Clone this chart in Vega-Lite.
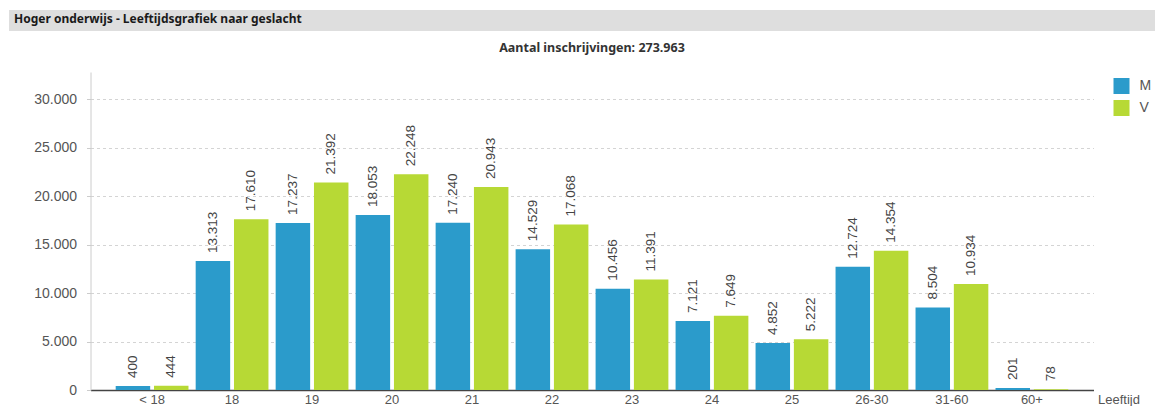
{
  "$schema": "https://vega.github.io/schema/vega-lite/v6.json",
  "padding": {"left": 7, "top": 10, "right": 0, "bottom": 0},
  "spacing": 10,
  "center": true,
  "resolve": {"scale": {"color": "independent"}, "legend": {"color": "independent"}},
  "background": "white",
  "config": {
    "locale": {"number": {"decimal": ",", "thousands": ".", "grouping": [3], "currency": ["€ ", ""]}},
    "font": "Liberation Sans",
    "view": {"stroke": null}
  },
  "vconcat": [
    {
      "width": 1230,
      "height": 21,
      "data": {"values": [{"panel": "header"}]},
      "mark": {"type": "rect", "color": "#dedede"},
      "encoding": {},
      "title": {
        "text": "Hoger onderwijs - Leeftijdsgrafiek naar geslacht",
        "anchor": "start",
        "frame": "group",
        "offset": -16,
        "dx": 5,
        "font": "Noto Sans",
        "fontSize": 12,
        "fontWeight": "bold",
        "color": "#1a1a1a"
      }
    },
    {
      "width": 1003,
      "height": 318,
      "title": {
        "text": "Aantal inschrijvingen: 273.963",
        "font": "Noto Sans",
        "fontSize": 12.5,
        "fontWeight": "bold",
        "color": "#333333",
        "offset": 18
      },
      "data": {
        "values": [
          {"leeftijd": "< 18", "geslacht": "M", "aantal": 400},
          {"leeftijd": "< 18", "geslacht": "V", "aantal": 444},
          {"leeftijd": "18", "geslacht": "M", "aantal": 13313},
          {"leeftijd": "18", "geslacht": "V", "aantal": 17610},
          {"leeftijd": "19", "geslacht": "M", "aantal": 17237},
          {"leeftijd": "19", "geslacht": "V", "aantal": 21392},
          {"leeftijd": "20", "geslacht": "M", "aantal": 18053},
          {"leeftijd": "20", "geslacht": "V", "aantal": 22248},
          {"leeftijd": "21", "geslacht": "M", "aantal": 17240},
          {"leeftijd": "21", "geslacht": "V", "aantal": 20943},
          {"leeftijd": "22", "geslacht": "M", "aantal": 14529},
          {"leeftijd": "22", "geslacht": "V", "aantal": 17068},
          {"leeftijd": "23", "geslacht": "M", "aantal": 10456},
          {"leeftijd": "23", "geslacht": "V", "aantal": 11391},
          {"leeftijd": "24", "geslacht": "M", "aantal": 7121},
          {"leeftijd": "24", "geslacht": "V", "aantal": 7649},
          {"leeftijd": "25", "geslacht": "M", "aantal": 4852},
          {"leeftijd": "25", "geslacht": "V", "aantal": 5222},
          {"leeftijd": "26-30", "geslacht": "M", "aantal": 12724},
          {"leeftijd": "26-30", "geslacht": "V", "aantal": 14354},
          {"leeftijd": "31-60", "geslacht": "M", "aantal": 8504},
          {"leeftijd": "31-60", "geslacht": "V", "aantal": 10934},
          {"leeftijd": "60+", "geslacht": "M", "aantal": 201},
          {"leeftijd": "60+", "geslacht": "V", "aantal": 78}
        ]
      },
      "encoding": {
        "x": {
          "field": "leeftijd",
          "type": "nominal",
          "sort": ["< 18", "18", "19", "20", "21", "22", "23", "24", "25", "26-30", "31-60", "60+"],
          "scale": {"paddingInner": 0.09, "paddingOuter": 0.315},
          "axis": {
            "title": "Leeftijd",
            "titleX": 1007,
            "titleY": 3,
            "titleAlign": "left",
            "titleAnchor": null,
            "titleBaseline": "top",
            "titleFont": "Liberation Sans",
            "titleFontSize": 13,
            "titleFontWeight": "normal",
            "titleColor": "#555555",
            "labelAngle": 0,
            "labelFontSize": 13,
            "labelColor": "#555555",
            "labelPadding": 3,
            "ticks": false,
            "tickSize": 0,
            "domainColor": "#444444",
            "domainWidth": 1.5
          }
        },
        "xOffset": {
          "field": "geslacht",
          "type": "nominal",
          "scale": {"paddingInner": 0.1}
        },
        "y": {
          "field": "aantal",
          "type": "quantitative",
          "scale": {"domain": [0, 32800], "nice": false},
          "axis": {
            "title": null,
            "values": [0, 5000, 10000, 15000, 20000, 25000, 30000],
            "format": ",d",
            "labelFontSize": 14,
            "labelColor": "#555555",
            "labelPadding": 10,
            "tickSize": 4,
            "tickColor": "#cccccc",
            "domainColor": "#cccccc",
            "gridColor": "#d4d4d4",
            "gridDash": [3, 3],
            "minExtent": 83
          }
        }
      },
      "layer": [
        {
          "mark": {"type": "bar"},
          "encoding": {
            "color": {
              "field": "geslacht",
              "type": "nominal",
              "scale": {"domain": ["M", "V"], "range": ["#2b9bcb", "#b7d935"]},
              "legend": {
                "title": null,
                "orient": "right",
                "offset": 14,
                "padding": 6,
                "symbolType": "square",
                "symbolSize": 256,
                "symbolStrokeWidth": 0,
                "symbolOpacity": 1,
                "labelFontSize": 14,
                "labelColor": "#555555",
                "labelOffset": 10,
                "rowPadding": 6
              }
            }
          }
        },
        {
          "mark": {"type": "text", "angle": 270, "align": "left", "baseline": "middle", "dx": 8, "fontSize": 13.5, "color": "#444444"},
          "encoding": {
            "text": {"field": "aantal", "type": "quantitative", "format": ",d"}
          }
        }
      ]
    }
  ]
}
